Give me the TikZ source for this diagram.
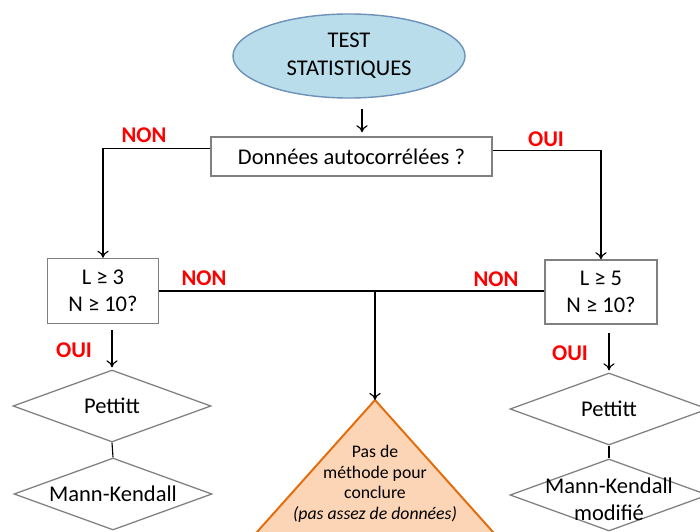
\documentclass[tikz,border=0pt]{standalone}
\usepackage{fontspec}
\setmainfont{Carlito}
\usepackage{xcolor}
\usepackage{tikz}
\usetikzlibrary{shapes, arrows.meta, positioning}

\definecolor{ellfill}{RGB}{185,221,234}
\definecolor{elldraw}{RGB}{110,145,185}
\definecolor{trifill}{RGB}{251,213,181}
\definecolor{tridraw}{RGB}{228,108,10}
\definecolor{boxdraw}{RGB}{128,128,128}

\begin{document}
\begin{tikzpicture}[x=0.025cm, y=-0.025cm,
        font=\fontsize{16}{19}\selectfont,
        box/.style={draw=boxdraw, line width=1pt, rectangle, fill=white, align=center, inner sep=0pt},
        losange/.style={draw=boxdraw, line width=0.9pt, diamond, fill=white, inner sep=0pt,
            minimum width=4.95cm, minimum height=1.8cm},
        arr/.style={-{To[length=5pt,width=8pt]}, line width=0.8pt},
        rep/.style={text=red, font=\fontsize{16}{19}\selectfont\bfseries}]
            \clip (0,0) rectangle (700,532);
            % depart
            \node[ellipse, draw=elldraw, line width=1pt, fill=ellfill, align=center,
                minimum width=5.8cm, minimum height=2.1cm, font=\fontsize{16}{20}\selectfont]
                (ell) at (349,56) {TEST\\STATISTIQUES};
            \node[box, minimum width=7.025cm, minimum height=0.975cm] (auto) at (351.5,156.5) {Données autocorrélées ?};
            \node[box, minimum width=2.775cm, minimum height=1.625cm] (lbox) at (103,291) {L ≥ 3\\N ≥ 10?};
            \node[box, minimum width=2.8cm, minimum height=1.6cm] (rbox) at (601,292) {L ≥ 5\\N ≥ 10?};

            % tests
            \node[losange, label={center:Pettitt}] (lpet) at (112,406) {};
            \node[losange, label={center:Mann-Kendall}] (lmk) at (113,494) {};
            \node[losange, label={[align=center, yshift=-3pt]center:Mann-Kendall\\modifié}] (rmk) at (609,495) {};
            \node[losange, label={center:Pettitt}] (rpet) at (609,409) {};

            % pas de methode
            \coordinate (apex) at (375,400);
            \coordinate (jn) at (375,292);
            \filldraw[fill=trifill, draw=tridraw, line width=1.4pt] (apex) -- ++(-160,179) -- ++(320,0) -- cycle;
            \node[align=center, font=\fontsize{12.6}{14.6}\selectfont] (tritext) at (375,484)
                {Pas de\\méthode pour\\conclure\\\textit{(pas assez de données)}};

            % fleches
            \draw[arr, shorten <=0.25cm, shorten >=0.1cm] ([xshift=0.325cm]ell.south) -- ([xshift=0.325cm]ell.south |- auto.north);
            \draw[arr] ([yshift=0.19cm]auto.west) -| (lbox.north);
            \draw[arr] ([yshift=0.14cm]auto.east) -| (rbox.north);
            \draw[line width=0.8pt] (lbox.east) -- (lbox.east -| rbox.west);
            \draw[arr] (jn) -- (apex);
            \draw[arr, shorten <=0.15cm, shorten >=0.05cm] (lpet.north |- lbox.south) -- (lpet.north);
            \draw[arr, shorten <=0.2cm, shorten >=0.05cm] (rpet.north |- rbox.south) -- (rpet.north);
            \draw[line width=0.8pt] (lpet.south) -- (lmk.north);
            \draw[line width=0.8pt] (rpet.south) -- (rmk.north);

            % reponses
            \node[rep] (non1) at (144,135) {NON};
            \node[rep] (oui1) at (546,139) {OUI};
            \node[rep] (non2) at (204,278) {NON};
            \node[rep] (non3) at (496,279) {NON};
            \node[rep] (oui2) at (74,350) {OUI};
            \node[rep] (oui3) at (570,353) {OUI};
        \end{tikzpicture}
\end{document}
